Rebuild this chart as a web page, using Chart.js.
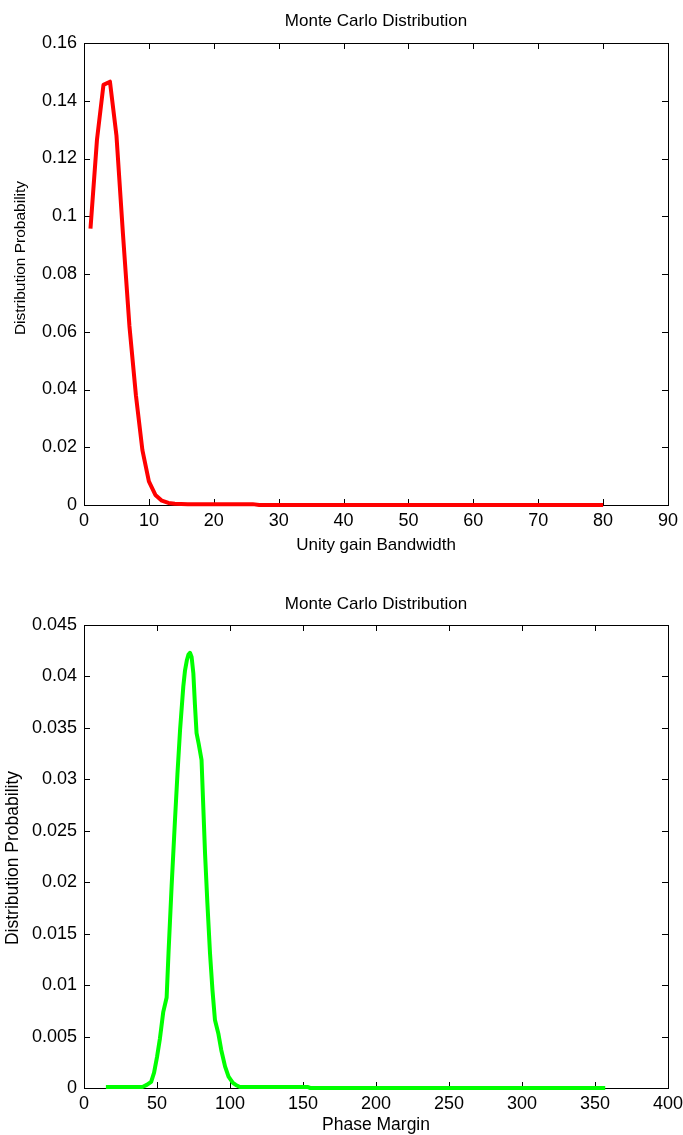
<!DOCTYPE html>
<html>
<head>
<meta charset="utf-8">
<script src="https://cdn.jsdelivr.net/npm/chart.js@4.4.1/dist/chart.umd.min.js"></script>
<style>
  html, body { margin: 0; padding: 0; background: #fff; }
  body { width: 683px; height: 1135px; position: relative; overflow: hidden; }
  .plot { position: absolute; left: 0; width: 683px; }
  #ugbBox { top: 0; height: 565px; }
  #pmBox { top: 565px; height: 570px; }
</style>
</head>
<body>
<div class="plot" id="ugbBox"><canvas id="ugbChart"></canvas></div>
<div class="plot" id="pmBox"><canvas id="pmChart"></canvas></div>
<script>
// unity gain bandwidth distribution
const ugbX = [1, 2, 3, 4, 5, 6, 7, 8, 9, 10, 11, 12, 13, 14, 16, 18, 20, 22, 24, 26, 27, 30, 35, 40, 45, 50, 55, 60, 65, 70, 75, 80];
const ugbProb = [0.0957, 0.1265, 0.1455, 0.1466, 0.128, 0.094, 0.062, 0.038, 0.019, 0.0082, 0.0035, 0.0015, 0.0007, 0.0004, 0.0003, 0.0003, 0.0003, 0.0003, 0.0003, 0.0003, 0, 0, 0, 0, 0, 0, 0, 0, 0, 0, 0, 0];
const ugbTicks = [0, 10, 20, 30, 40, 50, 60, 70, 80, 90];
const ugbProbTicks = [0, 0.02, 0.04, 0.06, 0.08, 0.1, 0.12, 0.14, 0.16];
const ugbProbLabels = ['0', '0.02', '0.04', '0.06', '0.08', '0.1', '0.12', '0.14', '0.16'];

// phase margin distribution
const pmX = [15, 40, 43, 46, 48, 50, 52, 54.3, 56.6, 58, 60, 62.3, 64, 65.8, 68, 69.2, 70.5, 71.5, 72.6, 73.7, 74.9, 76, 77.1, 78.5, 80.5, 82.9, 84.5, 86.3, 88, 89.7, 92, 94, 96.6, 99, 102, 104, 106.8, 153, 155, 357];
const pmProb = [0.0001, 0.0001, 0.0003, 0.0006, 0.0015, 0.003, 0.0048, 0.0074, 0.0088, 0.0135, 0.0196, 0.026, 0.0305, 0.0348, 0.039, 0.0406, 0.0416, 0.0421, 0.0423, 0.0419, 0.0403, 0.0372, 0.0345, 0.0335, 0.0319, 0.0228, 0.018, 0.0131, 0.0095, 0.0066, 0.0053, 0.0037, 0.0021, 0.0011, 0.0005, 0.0003, 0.0001, 0.0001, 0, 0];
const pmTicks = [0, 50, 100, 150, 200, 250, 300, 350, 400];
const pmProbTicks = [0, 0.005, 0.01, 0.015, 0.02, 0.025, 0.03, 0.035, 0.04, 0.045];
const pmProbLabels = ['0', '0.005', '0.01', '0.015', '0.02', '0.025', '0.03', '0.035', '0.04', '0.045'];

const FONT = "'Liberation Sans', Arial, Helvetica, sans-serif";

// box around the axes, inward ticks on all four sides, and the text labels
const frameTicks = {
  id: 'frameTicks',
  beforeDatasetsDraw(chart, args, opts) {
    const {ctx, chartArea: a, scales: {x, y}} = chart;
    const len = 6;
    ctx.save();
    ctx.strokeStyle = '#000';
    ctx.lineWidth = 1;
    ctx.beginPath();
    x.ticks.forEach(t => {
      const px = Math.round(x.getPixelForValue(t.value)) + 0.5;
      ctx.moveTo(px, a.bottom); ctx.lineTo(px, a.bottom - len);
      ctx.moveTo(px, a.top); ctx.lineTo(px, a.top + len);
    });
    y.ticks.forEach(t => {
      const py = Math.round(y.getPixelForValue(t.value)) + 0.5;
      ctx.moveTo(a.left, py); ctx.lineTo(a.left + len, py);
      ctx.moveTo(a.right, py); ctx.lineTo(a.right - len, py);
    });
    ctx.stroke();
    ctx.strokeRect(a.left + 0.5, a.top + 0.5, a.right - a.left, a.bottom - a.top);
    ctx.restore();
  },
  afterDraw(chart, args, opts) {
    const {ctx, chartArea: a} = chart;
    const cx = (a.left + a.right) / 2;
    ctx.save();
    ctx.fillStyle = '#000';
    ctx.textAlign = 'center';
    ctx.textBaseline = 'middle';
    ctx.font = '17px ' + FONT;
    ctx.fillText(opts.title, cx, a.top - opts.titleGap);
    ctx.font = opts.xLabelSize + 'px ' + FONT;
    ctx.fillText(opts.xLabel, cx, a.bottom + opts.xLabelGap);
    ctx.translate(opts.yLabelX, opts.yLabelY);
    ctx.rotate(-Math.PI / 2);
    ctx.font = opts.yLabelSize + 'px ' + FONT;
    ctx.fillText(opts.yLabel, 0, 0);
    ctx.restore();
  }
};

function makeChart(id, xs, ys, color, xTicks, yTicks, yLabels, xMax, yMax, layout, labels) {
  const points = xs.map((v, i) => ({x: v, y: ys[i]}));
  return new Chart(document.getElementById(id).getContext('2d'), {
    type: 'line',
    data: {
      datasets: [{
        data: points,
        borderColor: color,
        borderWidth: 4,
        borderJoinStyle: 'round',
        pointRadius: 0,
        tension: 0,
        fill: false,
        clip: false
      }]
    },
    options: {
      responsive: true,
      maintainAspectRatio: false,
      animation: false,
      devicePixelRatio: 1,
      layout: {padding: {top: layout.top, right: 15, left: 0, bottom: 0}},
      scales: {
        x: {
          type: 'linear',
          min: 0,
          max: xMax,
          grid: {display: false, drawTicks: false},
          border: {display: false},
          afterBuildTicks: s => { s.ticks = xTicks.map(v => ({value: v})); },
          afterFit: s => { s.height = layout.xHeight; s.paddingLeft = 0; s.paddingRight = 0; },
          ticks: {
            color: '#000',
            font: {family: FONT, size: 18},
            padding: 5,
            maxRotation: 0,
            autoSkip: false,
            callback: v => String(v)
          }
        },
        y: {
          type: 'linear',
          min: 0,
          max: yMax,
          grid: {display: false, drawTicks: false},
          border: {display: false},
          afterBuildTicks: s => { s.ticks = yTicks.map(v => ({value: v})); },
          afterFit: s => { s.width = 84; s.paddingTop = 0; s.paddingBottom = 0; },
          ticks: {
            color: '#000',
            font: {family: FONT, size: 18},
            padding: 7,
            autoSkip: false,
            callback: (v, i) => yLabels[i]
          }
        }
      },
      plugins: {
        legend: {display: false},
        tooltip: {enabled: false},
        frameTicks: labels
      }
    },
    plugins: [frameTicks]
  });
}

makeChart('ugbChart', ugbX, ugbProb, '#ff0000', ugbTicks, ugbProbTicks, ugbProbLabels, 90, 0.16,
  {top: 43, xHeight: 60},
  {title: 'Monte Carlo Distribution', xLabel: 'Unity gain Bandwidth', yLabel: 'Distribution Probability',
   titleGap: 22, xLabelGap: 40, xLabelSize: 17, yLabelX: 21, yLabelY: 258, yLabelSize: 15.5});

makeChart('pmChart', pmX, pmProb, '#00ff00', pmTicks, pmProbTicks, pmProbLabels, 400, 0.045,
  {top: 60, xHeight: 47},
  {title: 'Monte Carlo Distribution', xLabel: 'Phase Margin', yLabel: 'Distribution Probability',
   titleGap: 21, xLabelGap: 37, xLabelSize: 17.5, yLabelX: 13, yLabelY: 293, yLabelSize: 17.5});
</script>
</body>
</html>
